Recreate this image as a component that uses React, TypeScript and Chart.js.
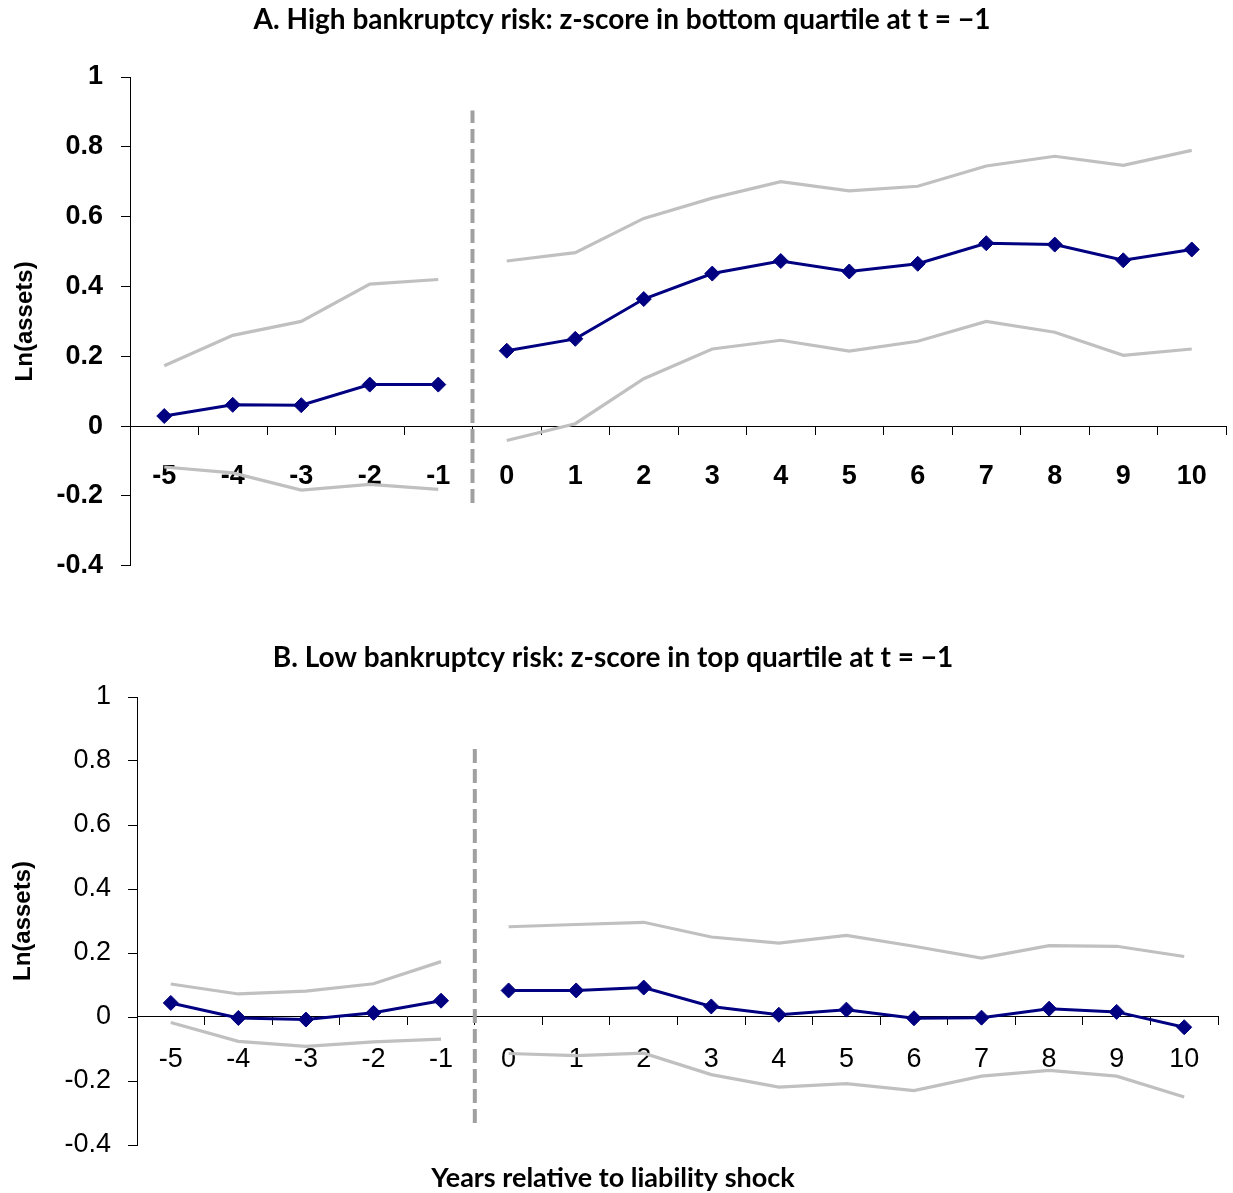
import { useEffect, useRef } from 'react';
import { Chart, registerables } from 'chart.js';

Chart.register(...registerables);

// Event time, years relative to the liability shock
const YEARS = ['-5', '-4', '-3', '-2', '-1', '0', '1', '2', '3', '4', '5', '6', '7', '8', '9', '10'];

// Panel A: high bankruptcy risk (z-score in bottom quartile at t = -1)
const MEAN_A = [0.029, 0.061, 0.06, 0.119, 0.119, 0.216, 0.25, 0.364, 0.437, 0.473, 0.443, 0.465, 0.524, 0.52, 0.475, 0.506];
const UPPER_A = [0.173, 0.26, 0.3, 0.407, 0.42, 0.473, 0.497, 0.595, 0.653, 0.7, 0.674, 0.687, 0.745, 0.773, 0.747, 0.79];
const LOWER_A = [-0.117, -0.134, -0.183, -0.167, -0.181, -0.041, 0.007, 0.136, 0.221, 0.246, 0.215, 0.243, 0.3, 0.269, 0.203, 0.221];
const DIVIDER_A = [-0.22, 0.904];

// Panel B: low bankruptcy risk (z-score in top quartile at t = -1)
const MEAN_B = [0.044, -0.003, -0.008, 0.013, 0.051, 0.083, 0.083, 0.092, 0.033, 0.007, 0.023, -0.004, -0.002, 0.026, 0.016, -0.032];
const UPPER_B = [0.103, 0.072, 0.081, 0.104, 0.173, 0.282, 0.289, 0.296, 0.25, 0.231, 0.255, 0.221, 0.184, 0.223, 0.221, 0.189];
const LOWER_B = [-0.017, -0.076, -0.092, -0.078, -0.069, -0.114, -0.121, -0.113, -0.18, -0.219, -0.208, -0.23, -0.185, -0.167, -0.185, -0.25];
const DIVIDER_B = [-0.331, 0.84];

// Axis range and ticks
const Y_MIN = -0.4;
const Y_MAX = 1;
const Y_STEP = 0.2;

// Shock falls between t = -1 and t = 0
const SHOCK_AT = -0.5;

const TITLE_A = 'A. High bankruptcy risk: z-score in bottom quartile at t = \u22121';
const TITLE_B = 'B. Low bankruptcy risk: z-score in top quartile at t = \u22121';
const X_TITLE = 'Years relative to liability shock';
const Y_TITLE = 'Ln(assets)';

const NAVY = '#000080';
const BAND = '#c0c0c0';
const DIVIDER_COLOR = '#a0a0a0';
const TITLE_FONT = 'Lato, "Open Sans", sans-serif';
const AXIS_FONT = '"Liberation Sans", Arial, sans-serif';

type PanelProps = {
  title: string;
  mean: number[];
  upper: number[];
  lower: number[];
  divider: number[];
  top: number;
  width: number;
  height: number;
  axisWidth: number;
  padLeft: number;
  padRight: number;
  padBottom: number;
  titlePad: { top: number; bottom: number };
  yTitlePad: number;
  tickWeight: 'bold' | 'normal';
  xTickPad: number;
  yTickPad: number;
  xTitle?: { pad: { top: number; bottom: number } };
};

// break the series between t = -1 and t = 0
const gapIndex = YEARS.indexOf('-1');
const gapSegment = {
  borderColor: (ctx: any) => (ctx.p0DataIndex === gapIndex ? 'rgba(0,0,0,0)' : undefined),
};

function Panel(p: PanelProps) {
  const ref = useRef<HTMLCanvasElement | null>(null);

  useEffect(() => {
    if (!ref.current) return;
    const tickFont = { family: AXIS_FONT, size: 27, weight: p.tickWeight };
    const chart = new Chart(ref.current, {
      type: 'line',
      data: {
        labels: YEARS,
        datasets: [
          {
            data: p.mean,
            borderColor: NAVY,
            backgroundColor: NAVY,
            borderWidth: 3,
            pointStyle: 'rectRot',
            pointRadius: 7.5,
            pointBorderWidth: 1,
            pointBorderColor: NAVY,
            pointBackgroundColor: NAVY,
            segment: gapSegment,
            tension: 0,
          },
          {
            data: p.upper,
            borderColor: BAND,
            borderWidth: 3.2,
            pointRadius: 0,
            segment: gapSegment,
          },
          {
            data: p.lower,
            borderColor: BAND,
            borderWidth: 3.2,
            pointRadius: 0,
            segment: gapSegment,
          },
          {
            data: p.divider.map((y) => ({ x: SHOCK_AT, y })),
            xAxisID: 'xd',
            borderColor: DIVIDER_COLOR,
            borderWidth: 4,
            borderDash: [14, 6],
            pointRadius: 0,
          } as any,
        ],
      },
      options: {
        responsive: false,
        animation: false,
        events: [],
        layout: { padding: { left: p.padLeft, top: 0, right: p.padRight, bottom: p.padBottom } },
        plugins: {
          legend: { display: false },
          tooltip: { enabled: false },
          title: {
            display: true,
            text: p.title,
            color: '#000',
            font: { family: TITLE_FONT, size: 28, weight: 'bold' },
            padding: p.titlePad,
          },
          subtitle: {
            display: !!p.xTitle,
            position: 'bottom',
            text: X_TITLE,
            color: '#000',
            font: { family: TITLE_FONT, size: 27, weight: 'bold' },
            padding: p.xTitle ? p.xTitle.pad : 0,
          },
        },
        scales: {
          x: {
            type: 'category',
            position: { y: 0 } as any,
            offset: true,
            grid: {
              offset: true,
              drawOnChartArea: false,
              drawTicks: true,
              tickLength: 8,
              color: '#000',
              lineWidth: 1,
            },
            border: { color: '#000', width: 1 },
            ticks: {
              autoSkip: false,
              maxRotation: 0,
              padding: p.xTickPad,
              color: '#000',
              font: tickFont,
            },
            afterFit: (s: any) => {
              s.height = 0;
            },
          },
          xd: {
            type: 'linear',
            display: false,
            min: -5.5,
            max: 10.5,
          },
          y: {
            min: Y_MIN,
            max: Y_MAX,
            ticks: {
              stepSize: Y_STEP,
              padding: p.yTickPad,
              color: '#000',
              font: tickFont,
              callback: (v: any) => String(Math.round(Number(v) * 10) / 10),
            },
            grid: { drawOnChartArea: false, tickLength: 9, color: '#000', lineWidth: 1 },
            border: { color: '#000', width: 1 },
            title: {
              display: true,
              text: Y_TITLE,
              color: '#000',
              font: { family: AXIS_FONT, size: 24, weight: 'bold' },
              padding: { top: p.yTitlePad, bottom: 0 },
            },
            afterFit: (s: any) => {
              s.width = p.axisWidth;
            },
          },
        },
      },
    } as any);
    return () => chart.destroy();
  }, []);

  return (
    <canvas
      ref={ref}
      width={p.width}
      height={p.height}
      style={{ position: 'absolute', left: 0, top: p.top, display: 'block' }}
    />
  );
}

export default function App() {
  return (
    <div
      style={{
        position: 'absolute',
        left: 0,
        top: 0,
        width: 1233,
        height: 1193,
        overflow: 'hidden',
        background: '#fff',
      }}
    >
      <Panel
        title={TITLE_A}
        mean={MEAN_A}
        upper={UPPER_A}
        lower={LOWER_A}
        divider={DIVIDER_A}
        top={0}
        width={1250}
        height={600}
        axisWidth={112}
        padLeft={18}
        padRight={24}
        padBottom={26}
        titlePad={{ top: 3.2, bottom: 40.2 }}
        yTitlePad={-7}
        tickWeight="bold"
        xTickPad={26}
        yTickPad={18}
      />
      <Panel
        title={TITLE_B}
        mean={MEAN_B}
        upper={UPPER_B}
        lower={LOWER_B}
        divider={DIVIDER_B}
        top={625}
        width={1250}
        height={570}
        axisWidth={129}
        padLeft={8}
        padRight={32}
        padBottom={0}
        titlePad={{ top: 16.2, bottom: 22.2 }}
        yTitlePad={1}
        tickWeight="normal"
        xTickPad={18}
        yTickPad={17}
        xTitle={{ pad: { top: 16.8, bottom: 0.8 } }}
      />
    </div>
  );
}
